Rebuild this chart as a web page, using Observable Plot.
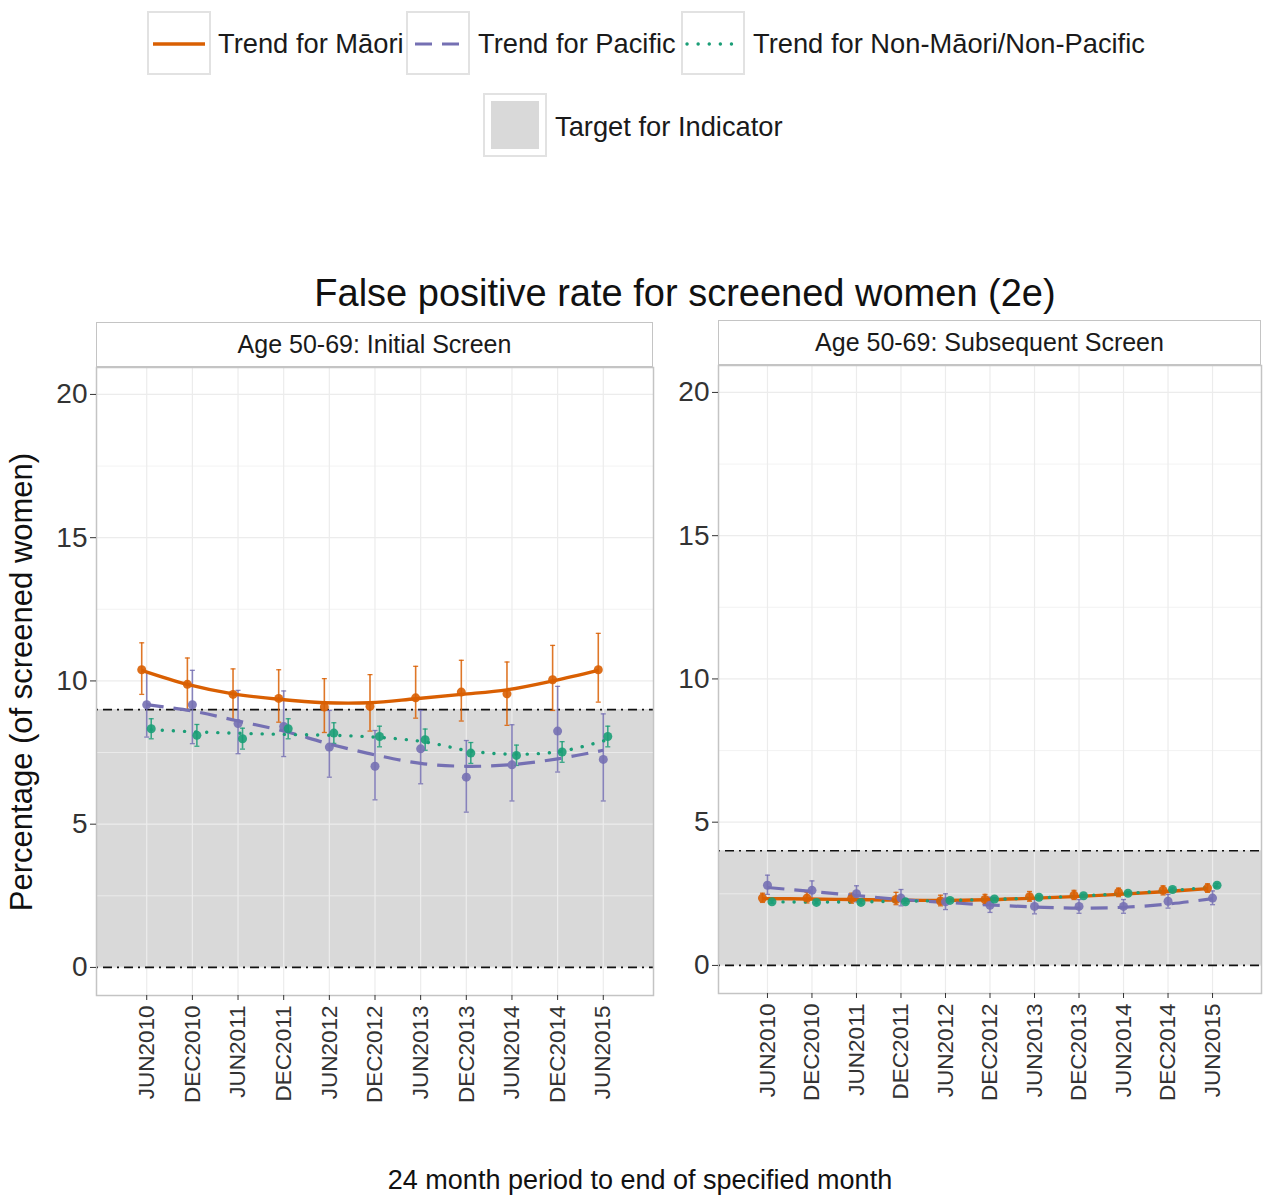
<!DOCTYPE html>
<html><head><meta charset="utf-8">
<script src="https://cdn.jsdelivr.net/npm/d3@7"></script>
<script src="https://cdn.jsdelivr.net/npm/@observablehq/plot@0.6"></script>
<style>
body{margin:0;background:#fff;font-family:"Liberation Sans",Arial,Helvetica,sans-serif;}
#root{position:relative;width:1263px;height:1198px;overflow:hidden;background:#fff;}
.abs{position:absolute;}
.key{position:absolute;width:64px;height:64px;border:2px solid #e2e2e2;background:#fff;box-sizing:border-box}
.ltext{position:absolute;font-size:27.3px;color:#1a1a1a;white-space:nowrap;line-height:27px}
.strip{position:absolute;height:45px;border:1.5px solid #c4c4c4;box-sizing:border-box;background:#fff;font-size:25px;color:#1a1a1a;text-align:center;line-height:42px;white-space:nowrap}
</style></head><body><div id="root"></div>
<script>
// ---- data ----
const periods = ["JUN2010","DEC2010","JUN2011","DEC2011","JUN2012","DEC2012","JUN2013","DEC2013","JUN2014","DEC2014","JUN2015"];
const groups = ["Māori","Pacific","Non-Māori/Non-Pacific"];
const groupColors = ["#D95F02","#7570B3","#1B9E77"];
const yTicks = [0,5,10,15,20];
const yMinor = [2.5,7.5,12.5,17.5];
const panelTitles = ["Age 50-69: Initial Screen","Age 50-69: Subsequent Screen"];
const targets = [9, 4];

// Initial screen
const maoriInit    = [10.39, 9.88, 9.53, 9.39, 9.09, 9.11, 9.41, 9.61, 9.55, 10.04, 10.39];
const maoriInitLo  = [9.53, 8.97, 8.62, 8.56, 8.20, 8.25, 8.70, 8.60, 8.45, 8.97, 9.26];
const maoriInitHi  = [11.33, 10.80, 10.42, 10.39, 10.08, 10.22, 10.51, 10.72, 10.66, 11.24, 11.66];
const maoriInitTrend = [10.37, 9.88, 9.55, 9.36, 9.24, 9.24, 9.38, 9.53, 9.69, 10.00, 10.37];

const pacInit      = [9.17, 9.17, 8.51, 8.41, 7.69, 7.02, 7.63, 6.64, 7.07, 8.25, 7.26];
const pacInitLo    = [8.04, 7.81, 7.46, 7.36, 6.64, 5.85, 6.41, 5.42, 5.81, 6.82, 5.81];
const pacInitHi    = [10.30, 10.37, 9.67, 9.65, 8.97, 8.27, 8.97, 7.92, 8.47, 9.81, 8.85];
const pacInitTrend = [9.17, 8.95, 8.60, 8.25, 7.80, 7.42, 7.12, 7.02, 7.08, 7.28, 7.58];

const nmnpInit     = [8.33, 8.10, 7.98, 8.33, 8.18, 8.06, 7.95, 7.48, 7.40, 7.52, 8.06];
const nmnpInitLo   = [7.98, 7.72, 7.62, 7.98, 7.82, 7.70, 7.58, 7.12, 7.05, 7.16, 7.70];
const nmnpInitHi   = [8.68, 8.48, 8.35, 8.68, 8.54, 8.42, 8.32, 7.85, 7.76, 7.88, 8.42];
const nmnpInitTrend= [8.30, 8.22, 8.17, 8.13, 8.10, 8.03, 7.87, 7.55, 7.44, 7.55, 7.95];

// Subsequent screen
const maoriSub     = [2.35, 2.35, 2.33, 2.30, 2.25, 2.30, 2.40, 2.45, 2.55, 2.62, 2.70];
const maoriSubLo   = [2.20, 2.18, 2.17, 2.12, 2.08, 2.13, 2.24, 2.30, 2.40, 2.46, 2.55];
const maoriSubHi   = [2.52, 2.55, 2.52, 2.55, 2.45, 2.48, 2.58, 2.62, 2.70, 2.78, 2.85];
const maoriSubTrend= [2.33, 2.32, 2.30, 2.28, 2.27, 2.29, 2.34, 2.40, 2.48, 2.57, 2.68];

const pacSub       = [2.80, 2.62, 2.50, 2.35, 2.22, 2.10, 2.06, 2.06, 2.06, 2.24, 2.35];
const pacSubLo     = [2.48, 2.32, 2.22, 2.08, 1.95, 1.85, 1.80, 1.82, 1.82, 2.00, 2.12];
const pacSubHi     = [3.15, 2.95, 2.78, 2.65, 2.50, 2.38, 2.32, 2.30, 2.30, 2.48, 2.60];
const pacSubTrend  = [2.72, 2.58, 2.44, 2.30, 2.20, 2.11, 2.04, 2.00, 2.03, 2.14, 2.33];

const nmnpSub      = [2.22, 2.20, 2.20, 2.22, 2.27, 2.32, 2.38, 2.43, 2.52, 2.65, 2.80];
const nmnpSubLo    = [2.17, 2.15, 2.15, 2.17, 2.22, 2.27, 2.33, 2.38, 2.47, 2.60, 2.74];
const nmnpSubHi    = [2.27, 2.25, 2.25, 2.27, 2.32, 2.37, 2.43, 2.48, 2.57, 2.70, 2.86];
const nmnpSubTrend = [2.22, 2.21, 2.22, 2.24, 2.27, 2.31, 2.36, 2.43, 2.52, 2.62, 2.75];

// ---- build tables ----
function table(v, lo, hi, tr) {
  return periods.map((p, i) => ({period: p, value: v[i], lo: lo[i], hi: hi[i], trend: tr[i]}));
}
const panels = [
  [table(maoriInit, maoriInitLo, maoriInitHi, maoriInitTrend),
   table(pacInit, pacInitLo, pacInitHi, pacInitTrend),
   table(nmnpInit, nmnpInitLo, nmnpInitHi, nmnpInitTrend)],
  [table(maoriSub, maoriSubLo, maoriSubHi, maoriSubTrend),
   table(pacSub, pacSubLo, pacSubHi, pacSubTrend),
   table(nmnpSub, nmnpSubLo, nmnpSubHi, nmnpSubTrend)]
];

const root = document.getElementById("root");
function add(html) { const d = document.createElement("div"); d.innerHTML = html; const el = d.firstElementChild; root.appendChild(el); return el; }

// ---- legend ----
const lineStyles = [
  {dash: null, w: 3.4, cap: "butt"},
  {dash: "17,10", w: 3.2, cap: "butt"},
  {dash: "0.1,11", w: 3.4, cap: "round"}
];
const legendPos = [
  {box: 147, text: 218}, {box: 406, text: 478}, {box: 681, text: 753}
];
groups.forEach((g, i) => {
  const s = lineStyles[i];
  add(`<div class="key" style="left:${legendPos[i].box}px;top:11px">
    <svg width="60" height="60" style="position:absolute;left:0;top:0"><line x1="4" x2="56" y1="31" y2="31" stroke="${groupColors[i]}" stroke-width="${s.w}" ${s.dash ? `stroke-dasharray="${s.dash}"` : ""} stroke-linecap="${s.cap}" ${i===1?'stroke-dashoffset="-3"':''}/></svg></div>`);
  add(`<div class="ltext" style="left:${legendPos[i].text}px;top:30px">Trend for ${g}</div>`);
});
add(`<div class="key" style="left:483px;top:93px"><div style="position:absolute;left:6px;top:6px;width:48px;height:48px;background:#d9d9d9"></div></div>`);
add(`<div class="ltext" style="left:555px;top:113px">Target for Indicator</div>`);

// ---- title ----
add(`<div class="abs" style="left:0;width:1370px;top:272px;text-align:center;font-size:38px;color:#111;white-space:nowrap">False positive rate for screened women (2e)</div>`);

// ---- y title ----
add(`<div class="abs" style="left:22px;top:682px;transform:translate(-50%,-50%) rotate(-90deg);font-size:31px;color:#111;white-space:nowrap">Percentage (of screened women)</div>`);

// ---- x caption ----
add(`<div class="abs" style="left:0;width:1280px;top:1165px;text-align:center;font-size:27px;color:#111;white-space:nowrap">24 month period to end of specified month</div>`);

// ---- panels ----
const capSymbol = {draw(ctx, size) { const r = Math.sqrt(size / Math.PI); ctx.moveTo(-r, 0); ctx.lineTo(r, 0); }};
const dxs = [-5, 0, 4.5];
const layout = [
  {left: 0, top: 367, width: 660, ml: 96, mr: 7, stripLeft: 96, stripTop: 322, stripW: 557},
  {left: 660, top: 365, width: 603, ml: 58, mr: 2, stripLeft: 718, stripTop: 320, stripW: 543}
];

panels.forEach((groupsData, pi) => {
  const L = layout[pi];
  const target = targets[pi];
  const marks = [
    Plot.rect([{a: 0, b: target}], {y1: "a", y2: "b", fill: "#d9d9d9"}),
    Plot.ruleY(yMinor, {stroke: "#efefef", strokeWidth: 0.8}),
    Plot.ruleY(yTicks, {stroke: "#ececec", strokeWidth: 1.2}),
    Plot.ruleX(periods, {stroke: "#ececec", strokeWidth: 1.2}),
    Plot.ruleY([0, target], {stroke: "#111", strokeWidth: 1.6, strokeDasharray: "2,5,9,5"})
  ];
  groupsData.forEach((rows, gi) => {
    const c = groupColors[gi];
    const dx = dxs[gi];
    marks.push(Plot.ruleX(rows, {x: "period", y1: "lo", y2: "hi", stroke: c, strokeWidth: 1.6, strokeOpacity: 0.85, dx}));
    marks.push(Plot.dot(rows, {x: "period", y: "lo", symbol: capSymbol, r: 2.5, stroke: c, strokeWidth: 1.3, strokeOpacity: 0.85, dx}));
    marks.push(Plot.dot(rows, {x: "period", y: "hi", symbol: capSymbol, r: 2.5, stroke: c, strokeWidth: 1.3, strokeOpacity: 0.85, dx}));
  });
  groupsData.forEach((rows, gi) => {
    const c = groupColors[gi];
    const s = lineStyles[gi];
    marks.push(Plot.line(rows, {x: "period", y: "trend", stroke: c, strokeWidth: s.w, strokeDasharray: s.dash || undefined, strokeLinecap: s.cap, curve: "catmull-rom", dx: dxs[gi]}));
  });
  groupsData.forEach((rows, gi) => {
    marks.push(Plot.dot(rows, {x: "period", y: "value", fill: groupColors[gi], r: 4.5, fillOpacity: 0.9, dx: dxs[gi]}));
  });
  marks.push(Plot.frame({stroke: "#c4c4c4", strokeWidth: 1.5}));
  marks.push(Plot.axisY({ticks: yTicks, tickSize: 6, tickPadding: 3, fontSize: 28, color: "#333", label: null, tickFormat: d => String(d)}));
  marks.push(Plot.axisX({tickRotate: -90, tickSize: 5, tickPadding: 5, fontSize: 22.5, color: "#333", label: null}));

  const chart = Plot.plot({
    width: L.width,
    height: 628 + 110,
    marginLeft: L.ml,
    marginRight: L.mr,
    marginTop: 0,
    marginBottom: 110,
    style: {fontFamily: '"Liberation Sans", Arial, Helvetica, sans-serif', background: "transparent", overflow: "visible"},
    x: {type: "point", domain: periods, padding: 1.1, round: false},
    y: {domain: [-0.98, 20.94]},
    marks
  });
  chart.style.position = "absolute";
  chart.style.left = L.left + "px";
  chart.style.top = L.top + "px";
  root.appendChild(chart);
  add(`<div class="strip" style="left:${L.stripLeft}px;top:${L.stripTop}px;width:${L.stripW}px">${panelTitles[pi]}</div>`);
});
</script></body></html>
